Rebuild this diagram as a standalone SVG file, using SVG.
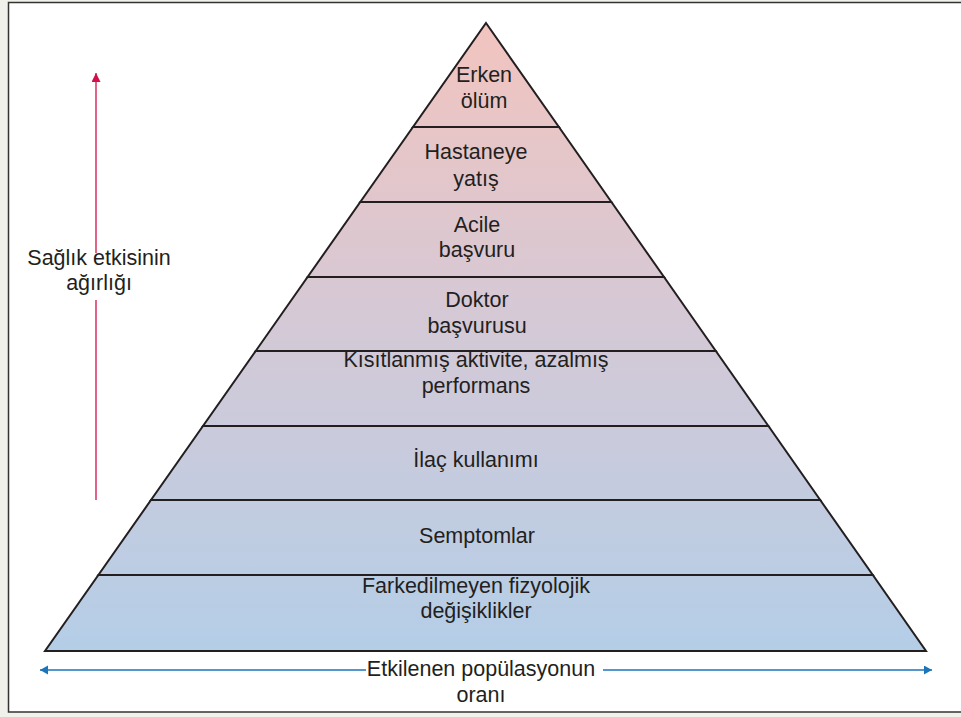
<svg xmlns="http://www.w3.org/2000/svg" width="961" height="717" viewBox="0 0 961 717">
  <style>
    .lbl { font-family: "Liberation Sans", Arial, sans-serif; font-size: 21.5px; fill: #231f20; text-anchor: middle; }
    .layer { fill: url(#pyrGrad); stroke: #231f20; stroke-width: 2; stroke-linejoin: miter; }
  </style>
  <defs>
    <linearGradient id="pyrGrad" gradientUnits="userSpaceOnUse" x1="0" y1="23" x2="0" y2="651">
      <stop offset="0" stop-color="#f2c4bf"/>
      <stop offset="0.5" stop-color="#d3c9d7"/>
      <stop offset="1" stop-color="#b4cee7"/>
    </linearGradient>
    <marker id="redHead" markerUnits="userSpaceOnUse" markerWidth="10" markerHeight="10" refX="9" refY="4.5" orient="auto">
      <path d="M0,0 L9,4.5 L0,9 z" fill="#d2104a"/>
    </marker>
    <marker id="blueHead" markerUnits="userSpaceOnUse" markerWidth="10" markerHeight="10" refX="8" refY="4.5" orient="auto-start-reverse">
      <path d="M0,0 L8,4.5 L0,9 z" fill="#1b75bb"/>
    </marker>
  </defs>

  <rect x="0" y="0" width="961" height="717" fill="#f1f1eb"/>
  <rect x="8.5" y="2.5" width="960" height="709.5" fill="#ffffff" stroke="#333333" stroke-width="1.5"/>

  <g id="layer-erken-olum">
    <polygon class="layer" points="486,23 558.9,127 413,127"/>
    <text class="lbl" x="484" y="82">Erken</text>
    <text class="lbl" x="484" y="108">ölüm</text>
  </g>
  <g id="layer-hastaneye-yatis">
    <polygon class="layer" points="413,127 558.9,127 611.4,202 360.3,202"/>
    <text class="lbl" x="476" y="159">Hastaneye</text>
    <text class="lbl" x="476" y="186">yatış</text>
  </g>
  <g id="layer-acile-basvuru">
    <polygon class="layer" points="360.3,202 611.4,202 664,277 307.6,277"/>
    <text class="lbl" x="477" y="232">Acile</text>
    <text class="lbl" x="477" y="257">başvuru</text>
  </g>
  <g id="layer-doktor-basvurusu">
    <polygon class="layer" points="307.6,277 664,277 715.8,351 255.7,351"/>
    <text class="lbl" x="477" y="307">Doktor</text>
    <text class="lbl" x="477" y="333">başvurusu</text>
  </g>
  <g id="layer-kisitlanmis">
    <polygon class="layer" points="255.7,351 715.8,351 768.4,426 203,426"/>
    <text class="lbl" x="476" y="367">Kısıtlanmış aktivite, azalmış</text>
    <text class="lbl" x="476" y="393">performans</text>
  </g>
  <g id="layer-ilac">
    <polygon class="layer" points="203,426 768.4,426 820.2,500 151,500"/>
    <text class="lbl" x="476" y="467">İlaç kullanımı</text>
  </g>
  <g id="layer-semptomlar">
    <polygon class="layer" points="151,500 820.2,500 872.8,575 98.4,575"/>
    <text class="lbl" x="477" y="543">Semptomlar</text>
  </g>
  <g id="layer-farkedilmeyen">
    <polygon class="layer" points="98.4,575 872.8,575 926,651 45,651"/>
    <text class="lbl" x="476" y="593">Farkedilmeyen fizyolojik</text>
    <text class="lbl" x="476" y="618">değişiklikler</text>
  </g>

  <g id="connectors">
    <line x1="96" y1="500" x2="96" y2="73" stroke="#d2104a" stroke-width="1.3" marker-end="url(#redHead)"/>
    <line x1="40" y1="670" x2="932" y2="670" stroke="#1b75bb" stroke-width="1.5" marker-start="url(#blueHead)" marker-end="url(#blueHead)"/>
  </g>

  <g id="axis-labels">
    <rect x="24" y="253" width="152" height="47" fill="#ffffff"/>
    <text class="lbl" x="99" y="265">Sağlık etkisinin</text>
    <text class="lbl" x="99" y="290">ağırlığı</text>
    <rect x="366" y="657" width="237" height="25" fill="#ffffff"/>
    <text class="lbl" x="481" y="676">Etkilenen popülasyonun</text>
    <text class="lbl" x="481" y="702">oranı</text>
  </g>
</svg>
